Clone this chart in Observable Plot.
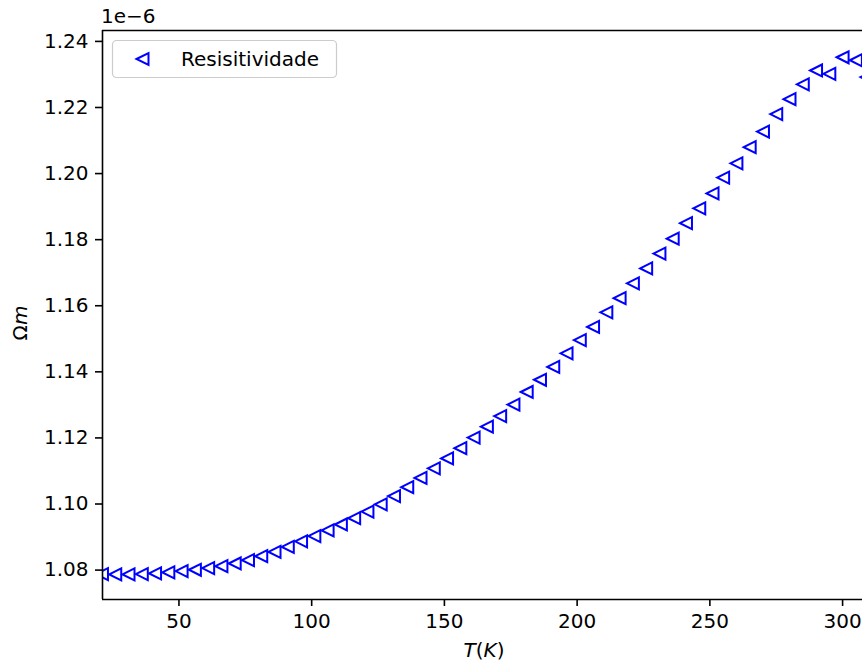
<!DOCTYPE html>
<html>
<head>
<meta charset="utf-8">
<script src="https://cdn.jsdelivr.net/npm/d3@7"></script>
<script src="https://cdn.jsdelivr.net/npm/@observablehq/plot@0.6"></script>
<style>
  body { margin: 0; background: #fff; }
  #chart { position: relative; width: 862px; height: 666px; overflow: hidden; }
</style>
</head>
<body>
<div id="chart"></div>
<script>
// Temperature (K)
const temperature = [21, 26, 31, 36, 41, 46, 51, 56, 61, 66, 71, 76, 81, 86, 91, 96, 101, 106, 111, 116,
  121, 126, 131, 136, 141, 146, 151, 156, 161, 166, 171, 176, 181, 186, 191, 196, 201, 206, 211, 216,
  221, 226, 231, 236, 241, 246, 251, 255, 260, 265, 270, 275, 280, 285, 290, 295, 300, 305, 309];
// Resistivity in units of 1e-6 Ohm·m
const resistivity = [1.0788, 1.0787, 1.0787, 1.0788, 1.0790, 1.0793, 1.0797, 1.0801, 1.0806, 1.0812,
  1.0820, 1.0830, 1.0842, 1.0855, 1.0870, 1.0887, 1.0903, 1.0920, 1.0938, 1.0957,
  1.0977, 1.0999, 1.1024, 1.1051, 1.1079, 1.1108, 1.1138, 1.1169, 1.1201, 1.1234,
  1.1266, 1.1301, 1.1339, 1.1376, 1.1415, 1.1456, 1.1496, 1.1536, 1.1580, 1.1623,
  1.1668, 1.1713, 1.1758, 1.1803, 1.1850, 1.1895, 1.1940, 1.1988, 1.2031, 1.2080,
  1.2127, 1.2180, 1.2225, 1.2270, 1.2312, 1.2302, 1.2352, 1.2343, 1.2292];
const xTicks = [50, 100, 150, 200, 250, 300];
const yTicks = [1.08, 1.10, 1.12, 1.14, 1.16, 1.18, 1.20, 1.22, 1.24];
const seriesName = "Resisitividade";
const offsetLabel = "1e\u22126";

const data = temperature.map((t, i) => ({T: t, rho: resistivity[i]}));

const xDomain = [21.2, 307.5];
const yDomain = [1.0711, 1.2433];
const blue = "#0000ff";

const leftTriangle = {
  draw(context, size) {
    const h = Math.sqrt(size / Math.PI);
    context.moveTo(-h, 0);
    context.lineTo(h, -h);
    context.lineTo(h, h);
    context.closePath();
  }
};

const plot = Plot.plot({
  width: 862,
  height: 666,
  marginLeft: 102,
  marginRight: 0,
  marginTop: 30,
  marginBottom: 67,
  style: {fontFamily: "DejaVu Sans", fontSize: "20px", color: "black", background: "white"},
  x: {domain: xDomain, label: null},
  y: {domain: yDomain, label: null},
  marks: [
    Plot.dot(data, {x: "T", y: "rho", symbol: leftTriangle, r: 6, stroke: blue, fill: "none", strokeWidth: 2, clip: true}),
    Plot.ruleX([xDomain[0]], {strokeWidth: 1.6, stroke: "black"}),
    Plot.ruleY([yDomain[0]], {strokeWidth: 1.6, stroke: "black"}),
    Plot.ruleY([yDomain[1]], {strokeWidth: 1.6, stroke: "black"}),
    Plot.axisX(xTicks, {tickSize: 7, tickPadding: 7, strokeWidth: 1.6, label: null, fontSize: 20}),
    Plot.axisY(yTicks, {tickSize: 7, tickPadding: 7, strokeWidth: 1.6, label: null, fontSize: 20, tickFormat: d3.format(".2f")})
  ]
});

document.getElementById("chart").appendChild(plot);

const svg = d3.select(plot);
const font = "DejaVu Sans";

// offset text
svg.append("text")
  .attr("x", 101).attr("y", 23)
  .attr("text-anchor", "start")
  .attr("font-family", font).attr("font-size", 20)
  .attr("fill", "black")
  .text(offsetLabel);

// x label T(K)
const xl = svg.append("text")
  .attr("x", 484).attr("y", 657)
  .attr("text-anchor", "middle")
  .attr("font-family", font).attr("font-size", 20).attr("fill", "black");
xl.append("tspan").attr("font-style", "italic").text("T");
xl.append("tspan").text("(");
xl.append("tspan").attr("font-style", "italic").text("K");
xl.append("tspan").text(")");

// y label Ωm
const yl = svg.append("text")
  .attr("transform", "translate(27,323) rotate(-90)")
  .attr("text-anchor", "middle")
  .attr("font-family", font).attr("font-size", 20).attr("fill", "black");
yl.append("tspan").text("\u03A9");
yl.append("tspan").attr("font-style", "italic").text("m");

// legend
const lg = svg.append("g");
lg.append("rect")
  .attr("x", 112.5).attr("y", 40.5).attr("width", 224).attr("height", 37)
  .attr("rx", 4).attr("fill", "white").attr("fill-opacity", 0.8)
  .attr("stroke", "#cccccc").attr("stroke-width", 1.2);
lg.append("path")
  .attr("transform", "translate(142.5,59)")
  .attr("d", d3.symbol(leftTriangle, 36 * Math.PI)())
  .attr("fill", "none").attr("stroke", blue).attr("stroke-width", 2);
lg.append("text")
  .attr("x", 181).attr("y", 59).attr("dy", "0.36em")
  .attr("text-anchor", "start")
  .attr("font-family", font).attr("font-size", 20).attr("fill", "black")
  .text(seriesName);
</script>
</body>
</html>
